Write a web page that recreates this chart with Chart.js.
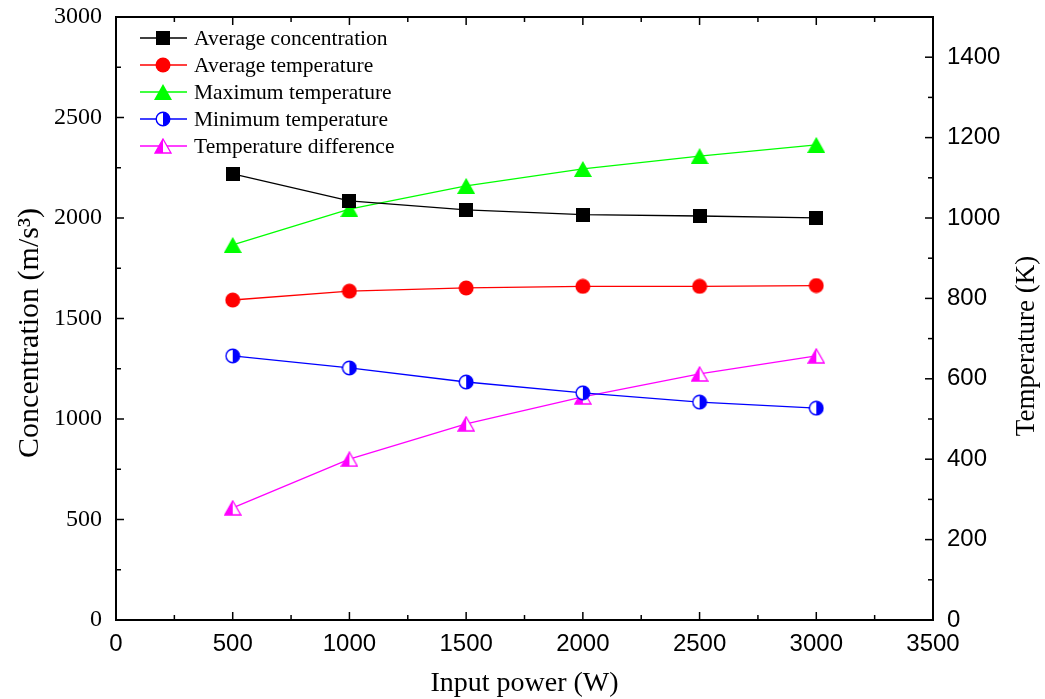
<!DOCTYPE html>
<html>
<head>
<meta charset="utf-8">
<script src="https://cdn.jsdelivr.net/npm/chart.js@4.4.0/dist/chart.umd.min.js"></script>
<style>
  body { margin: 0; background: #fff; }
  canvas { display: block; }
</style>
</head>
<body>
<canvas id="grafico" width="1045" height="699"></canvas>
<script>
// dados
const potencia = [500, 1000, 1500, 2000, 2500, 3000];
const concMedia = [2219, 2085, 2040, 2017, 2010, 2001];
const tempMedia = [796, 818, 826, 830, 830, 832];
const tempMaxima = [933, 1022, 1080, 1122, 1154, 1182];
const tempMinima = [657, 627, 592, 565, 542, 527];
const diferencaTemp = [279, 400, 488, 555, 612, 657];

const ticksX = [0, 500, 1000, 1500, 2000, 2500, 3000, 3500];
const ticksConc = [0, 500, 1000, 1500, 2000, 2500, 3000];
const ticksTemp = [0, 200, 400, 600, 800, 1000, 1200, 1400];

const serif = "'Liberation Serif', 'Times New Roman', serif";
const sans = "'Liberation Sans', Arial, sans-serif";

function criarMarcador(w, h, desenhar) {
    const c = document.createElement("canvas");
    c.width = w;
    c.height = h;
    desenhar(c.getContext("2d"), w, h);
    return c;
}

const quadrado = criarMarcador(14, 14, (ctx) => {
    ctx.fillStyle = "#000";
    ctx.fillRect(0, 0, 14, 14);
});

const circuloVermelho = criarMarcador(16, 16, (ctx) => {
    ctx.fillStyle = "#ff0000";
    ctx.beginPath();
    ctx.arc(8, 8, 7.5, 0, Math.PI * 2);
    ctx.fill();
});

const trianguloVerde = criarMarcador(18, 16, (ctx) => {
    ctx.fillStyle = "#00ff00";
    ctx.beginPath();
    ctx.moveTo(9, 0);
    ctx.lineTo(18, 16);
    ctx.lineTo(0, 16);
    ctx.closePath();
    ctx.fill();
});

// circulo meio preenchido (metade direita)
const circuloAzul = criarMarcador(16, 16, (ctx) => {
    ctx.fillStyle = "#fff";
    ctx.beginPath();
    ctx.arc(8, 8, 6.8, 0, Math.PI * 2);
    ctx.fill();
    ctx.fillStyle = "#0000ff";
    ctx.beginPath();
    ctx.arc(8, 8, 6.8, -Math.PI / 2, Math.PI / 2);
    ctx.closePath();
    ctx.fill();
    ctx.strokeStyle = "#0000ff";
    ctx.lineWidth = 1.4;
    ctx.beginPath();
    ctx.arc(8, 8, 6.8, 0, Math.PI * 2);
    ctx.stroke();
});

// triangulo meio preenchido (metade esquerda)
const trianguloMagenta = criarMarcador(18, 16, (ctx) => {
    ctx.fillStyle = "#fff";
    ctx.beginPath();
    ctx.moveTo(9, 1);
    ctx.lineTo(17, 15);
    ctx.lineTo(1, 15);
    ctx.closePath();
    ctx.fill();
    ctx.fillStyle = "#ff00ff";
    ctx.beginPath();
    ctx.moveTo(9, 1);
    ctx.lineTo(9, 15);
    ctx.lineTo(1, 15);
    ctx.closePath();
    ctx.fill();
    ctx.strokeStyle = "#ff00ff";
    ctx.lineWidth = 1.3;
    ctx.beginPath();
    ctx.moveTo(9, 1);
    ctx.lineTo(17, 15);
    ctx.lineTo(1, 15);
    ctx.closePath();
    ctx.stroke();
});

function serie(nome, valores, cor, marcador, eixo) {
    return {
        label: nome,
        data: potencia.map((p, i) => ({ x: p, y: valores[i] })),
        borderColor: cor,
        borderWidth: 1.3,
        pointStyle: marcador,
        pointRadius: 8,
        tension: 0,
        yAxisID: eixo,
    };
}

const datasets = [
    serie("Average concentration", concMedia, "#000000", quadrado, "yConc"),
    serie("Average temperature", tempMedia, "#ff0000", circuloVermelho, "yTemp"),
    serie("Maximum temperature", tempMaxima, "#00ff00", trianguloVerde, "yTemp"),
    serie("Minimum temperature", tempMinima, "#0000ff", circuloAzul, "yTemp"),
    serie("Temperature difference", diferencaTemp, "#ff00ff", trianguloMagenta, "yTemp"),
];

function linha(ctx, x1, y1, x2, y2) {
    ctx.beginPath();
    ctx.moveTo(x1, y1);
    ctx.lineTo(x2, y2);
    ctx.stroke();
}

// moldura, ticks internos, legenda e titulos
const moldura = {
    id: "moldura",
    afterDraw(chart) {
        const { ctx, chartArea: a, scales } = chart;
        ctx.save();
        ctx.strokeStyle = "#000";
        ctx.lineWidth = 2;
        ctx.strokeRect(a.left, a.top, a.right - a.left, a.bottom - a.top);

        ctx.lineWidth = 1.5;
        for (let v = 0; v <= 3500; v += 250) {
            const px = scales.x.getPixelForValue(v);
            const len = v % 500 === 0 ? 8 : 5;
            linha(ctx, px, a.bottom, px, a.bottom - len);
            linha(ctx, px, a.top, px, a.top + len);
        }
        for (let v = 0; v <= 3000; v += 250) {
            const py = scales.yConc.getPixelForValue(v);
            const len = v % 500 === 0 ? 8 : 5;
            linha(ctx, a.left, py, a.left + len, py);
        }
        for (let v = 0; v <= 1500; v += 100) {
            const py = scales.yTemp.getPixelForValue(v);
            const len = v % 200 === 0 ? 8 : 5;
            linha(ctx, a.right, py, a.right - len, py);
        }

        // legenda
        const linhasY = [38, 65, 92, 119, 146];
        ctx.font = "21.5px " + serif;
        ctx.textBaseline = "middle";
        ctx.textAlign = "left";
        chart.data.datasets.forEach((ds, i) => {
            const y = linhasY[i];
            ctx.strokeStyle = ds.borderColor;
            ctx.lineWidth = 1.3;
            linha(ctx, 140, y, 187, y);
            const m = ds.pointStyle;
            ctx.drawImage(m, 163 - m.width / 2, y - m.height / 2);
            ctx.fillStyle = "#000";
            ctx.fillText(ds.label, 194, y + 1);
        });

        // titulos dos eixos
        ctx.fillStyle = "#000";
        ctx.textAlign = "center";
        ctx.font = "28px " + serif;
        ctx.fillText("Input power (W)", (a.left + a.right) / 2, 684);

        ctx.save();
        ctx.font = "30px " + serif;
        ctx.translate(30, 333);
        ctx.rotate(-Math.PI / 2);
        ctx.fillText("Concentration (m/s\u00B3)", 0, 0);
        ctx.restore();

        ctx.save();
        ctx.font = "27px " + serif;
        ctx.translate(1027, 346);
        ctx.rotate(-Math.PI / 2);
        ctx.fillText("Temperature (K)", 0, 0);
        ctx.restore();

        ctx.restore();
    }
};

function fixarTicks(lista) {
    return (scale) => { scale.ticks = lista.map(v => ({ value: v })); };
}

// tamanho fixo dos eixos, sem folga extra para os rótulos
function fixarTamanho(prop, valor) {
    return (s) => {
        s[prop] = valor;
        s.paddingTop = 0;
        s.paddingBottom = 0;
        s.paddingLeft = 0;
        s.paddingRight = 0;
    };
}

const semVirgula = (v) => String(v);

new Chart(document.getElementById("grafico").getContext("2d"), {
    type: "line",
    data: { datasets },
    options: {
        responsive: false,
        devicePixelRatio: 1,
        animation: false,
        layout: { padding: { top: 17, left: 0, right: 0, bottom: 0 } },
        plugins: { legend: { display: false }, tooltip: { enabled: false } },
        scales: {
            x: {
                type: "linear",
                min: 0,
                max: 3500,
                afterBuildTicks: fixarTicks(ticksX),
                afterFit: fixarTamanho("height", 79),
                grid: { display: false, drawTicks: false },
                border: { display: false },
                ticks: { font: { family: sans, size: 24 }, color: "#000", padding: 10, maxRotation: 0, callback: semVirgula },
            },
            yConc: {
                type: "linear",
                position: "left",
                min: 0,
                max: 3000,
                afterBuildTicks: fixarTicks(ticksConc),
                afterFit: fixarTamanho("width", 116),
                grid: { display: false, drawTicks: false },
                border: { display: false },
                ticks: { font: { family: serif, size: 24 }, color: "#000", padding: 14, callback: semVirgula },
            },
            yTemp: {
                type: "linear",
                position: "right",
                min: 0,
                max: 1500,
                afterBuildTicks: fixarTicks(ticksTemp),
                afterFit: fixarTamanho("width", 112),
                grid: { display: false, drawTicks: false },
                border: { display: false },
                ticks: { font: { family: sans, size: 24 }, color: "#000", padding: 14, callback: semVirgula },
            },
        },
    },
    plugins: [moldura],
});
</script>
</body>
</html>
